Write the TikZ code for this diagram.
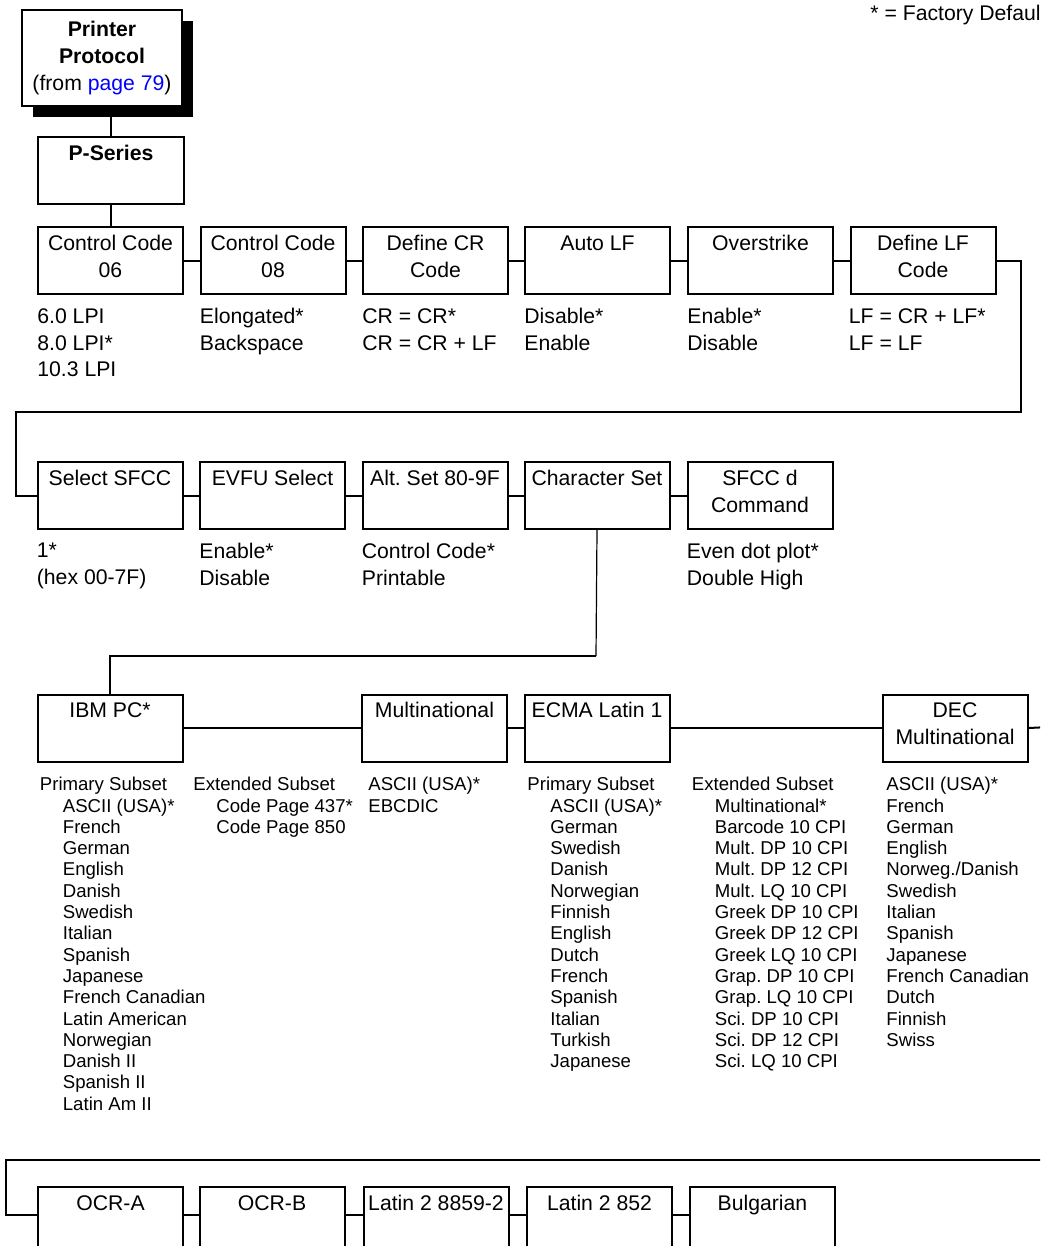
\documentclass[tikz,border=0pt]{standalone}
\usepackage{fontspec}
\setmainfont{Liberation Sans}
\usetikzlibrary{positioning,shadows,calc}
\frenchspacing

\newcommand{\subind}{\hspace*{11.5pt}}

\begin{document}
\begin{tikzpicture}[
    x=0.5pt, y=-0.5pt,
    menubox/.style={
        draw,
        line width=1pt,
        inner sep=0pt,
        anchor=north west,
        minimum width=72.5pt,
        minimum height=33.5pt,
        label={[boxlab]north:{\strut #1}}
    },
    boxlab/.style={
        anchor=north,
        align=center,
        inner sep=2.5pt,
        font=\fontsize{10.6}{13.5}\selectfont
    },
    optlist/.style={
        anchor=north west,
        align=left,
        inner sep=0pt,
        font=\fontsize{10.6}{13.4}\selectfont,
        execute at begin node=\strut
    },
    setlist/.style={
        anchor=north west,
        align=left,
        inner sep=0pt,
        font=\fontsize{9.3}{10.65}\selectfont,
        execute at begin node=\strut
    },
    link/.style={line width=1pt}
]
    \useasboundingbox (0,0) rectangle (1040,1246);
    \clip (0,0) rectangle (1040,1246);

    \node[anchor=base west, inner sep=0pt, font=\fontsize{10.6}{13.5}\selectfont] (dflt) at (870,21) {* = Factory Defaul};

    \node[draw, line width=1pt, fill=white, anchor=north west, inner sep=0pt,
          minimum width=80pt, minimum height=48pt, align=center,
          font=\fontsize{10.6}{13.5}\selectfont,
          drop shadow={shadow xshift=5.5pt, shadow yshift=-5.5pt, fill=black, opacity=1}]
          (proto) at (21,9) {\textbf{Printer}\\\textbf{Protocol}\\(from \textcolor{blue}{page 79})};
    \node[menubox={\textbf{P-Series}}, minimum width=73pt] (pser) at (37,136) {};

    % first row
    \node[menubox={Control Code\\06}] (cc06) at (37,226) {};
    \node[menubox={Control Code\\08}] (cc08) at (199.5,226) {};
    \node[menubox={Define CR\\Code}] (defcr) at (362,226) {};
    \node[menubox={Auto LF}] (autolf) at (524,226) {};
    \node[menubox={Overstrike}] (ovstr) at (687,226) {};
    \node[menubox={Define LF\\Code}] (deflf) at (849.5,226) {};

    \node[optlist] (cc06opt) at ([yshift=-6.5pt]cc06.south west) {6.0 LPI\\8.0 LPI*\\10.3 LPI};
    \node[optlist] (cc08opt) at ([yshift=-6.5pt]cc08.south west) {Elongated*\\Backspace};
    \node[optlist] (defcropt) at ([yshift=-6.5pt]defcr.south west) {CR = CR*\\CR = CR + LF};
    \node[optlist] (autolfopt) at ([yshift=-6.5pt]autolf.south west) {Disable*\\Enable};
    \node[optlist] (ovstropt) at ([yshift=-6.5pt]ovstr.south west) {Enable*\\Disable};
    \node[optlist] (deflfopt) at ([yshift=-6.5pt,xshift=-0.5pt]deflf.south west) {LF = CR + LF*\\LF = LF};

    % second row
    \node[menubox={Select SFCC}] (sfcc) at (36.5,461) {};
    \node[menubox={EVFU Select}] (evfu) at (199,461) {};
    \node[menubox={Alt. Set 80-9F}] (altset) at (361.5,461) {};
    \node[menubox={Character Set}] (charset) at (523.5,461) {};
    \node[menubox={SFCC d\\Command}] (sfccd) at (686.5,461) {};

    \node[optlist] (sfccopt) at ([yshift=-6.5pt]sfcc.south west) {1*\\(hex 00-7F)};
    \node[optlist] (evfuopt) at ([yshift=-6.5pt]evfu.south west) {Enable*\\Disable};
    \node[optlist] (altsetopt) at ([yshift=-6.5pt]altset.south west) {Control Code*\\Printable};
    \node[optlist] (sfccdopt) at ([yshift=-6.5pt]sfccd.south west) {Even dot plot*\\Double High};

    % character sets
    \node[menubox={IBM PC*}] (ibmpc) at (36.5,693.5) {};
    \node[menubox={Multinational}] (multi) at (361,693.5) {};
    \node[menubox={ECMA Latin 1}] (ecma) at (523.5,693.5) {};
    \node[menubox={DEC\\Multinational}] (dec) at (881.5,693.5) {};

    \node[setlist] (ibmprim) at ([xshift=1.5pt,yshift=-7.2pt]ibmpc.south west)
        {Primary Subset\\\subind ASCII (USA)*\\\subind French\\\subind German\\\subind English\\\subind Danish\\\subind Swedish\\\subind Italian\\\subind Spanish\\\subind Japanese\\\subind French Canadian\\\subind Latin American\\\subind Norwegian\\\subind Danish II\\\subind Spanish II\\\subind Latin Am II};
    \node[setlist] (ibmext) at ([xshift=78.25pt,yshift=-7.2pt]ibmpc.south west)
        {Extended Subset\\\subind Code Page 437*\\\subind Code Page 850};
    \node[setlist] (multiopt) at ([xshift=3.5pt,yshift=-7.2pt]multi.south west)
        {ASCII (USA)*\\EBCDIC};
    \node[setlist] (ecmaprim) at ([xshift=1.75pt,yshift=-7.2pt]ecma.south west)
        {Primary Subset\\\subind ASCII (USA)*\\\subind German\\\subind Swedish\\\subind Danish\\\subind Norwegian\\\subind Finnish\\\subind English\\\subind Dutch\\\subind French\\\subind Spanish\\\subind Italian\\\subind Turkish\\\subind Japanese};
    \node[setlist] (ecmaext) at ([xshift=84pt,yshift=-7.2pt]ecma.south west)
        {Extended Subset\\\subind Multinational*\\\subind Barcode 10 CPI\\\subind Mult. DP 10 CPI\\\subind Mult. DP 12 CPI\\\subind Mult. LQ 10 CPI\\\subind Greek DP 10 CPI\\\subind Greek DP 12 CPI\\\subind Greek LQ 10 CPI\\\subind Grap. DP 10 CPI\\\subind Grap. LQ 10 CPI\\\subind Sci. DP 10 CPI\\\subind Sci. DP 12 CPI\\\subind Sci. LQ 10 CPI};
    \node[setlist] (decopt) at ([xshift=2.25pt,yshift=-7.2pt]dec.south west)
        {ASCII (USA)*\\French\\German\\English\\Norweg./Danish\\Swedish\\Italian\\Spanish\\Japanese\\French Canadian\\Dutch\\Finnish\\Swiss};

    % last row
    \node[menubox={OCR-A}] (ocra) at (37,1186) {};
    \node[menubox={OCR-B}] (ocrb) at (198.5,1186) {};
    \node[menubox={Latin 2 8859-2}] (lat88592) at (362.5,1186) {};
    \node[menubox={Latin 2 852}] (lat852) at (526,1186) {};
    \node[menubox={Bulgarian}] (bulg) at (689,1186) {};

    \coordinate (bendR) at (1020.5,412);
    \coordinate (bendL) at (16,412);
    \coordinate (split) at (596,656);
    \coordinate (offR) at (1050,727);
    \coordinate (offR2) at (1050,1160);
    \coordinate (bendL2) at (6,1160);

    \draw[link] (pser.north) -- (pser.north |- proto.south);
    \draw[link] (pser.south) -- (pser.south |- cc06.north);
    \foreach \a/\b in {cc06/cc08, cc08/defcr, defcr/autolf, autolf/ovstr, ovstr/deflf,
                       sfcc/evfu, evfu/altset, altset/charset, charset/sfccd,
                       ibmpc/multi, multi/ecma, ecma/dec}
        \draw[link] (\a) -- (\b);
    \draw[link] (deflf.east) -| (bendR) -- (bendL) |- (sfcc.west);
    \draw[line width=0.6pt] (charset.south) -- (split);
    \draw[link] (split) -| (ibmpc.north);
    \draw[link] (dec.east) -- (offR);
    \draw[link] (offR2) -- (bendL2) |- ([yshift=3pt]ocra.west);
    \foreach \a/\b in {ocra/ocrb, ocrb/lat88592, lat88592/lat852, lat852/bulg}
        \draw[link] ([yshift=3pt]\a.east) -- ([yshift=3pt]\b.west);
\end{tikzpicture}
\end{document}
